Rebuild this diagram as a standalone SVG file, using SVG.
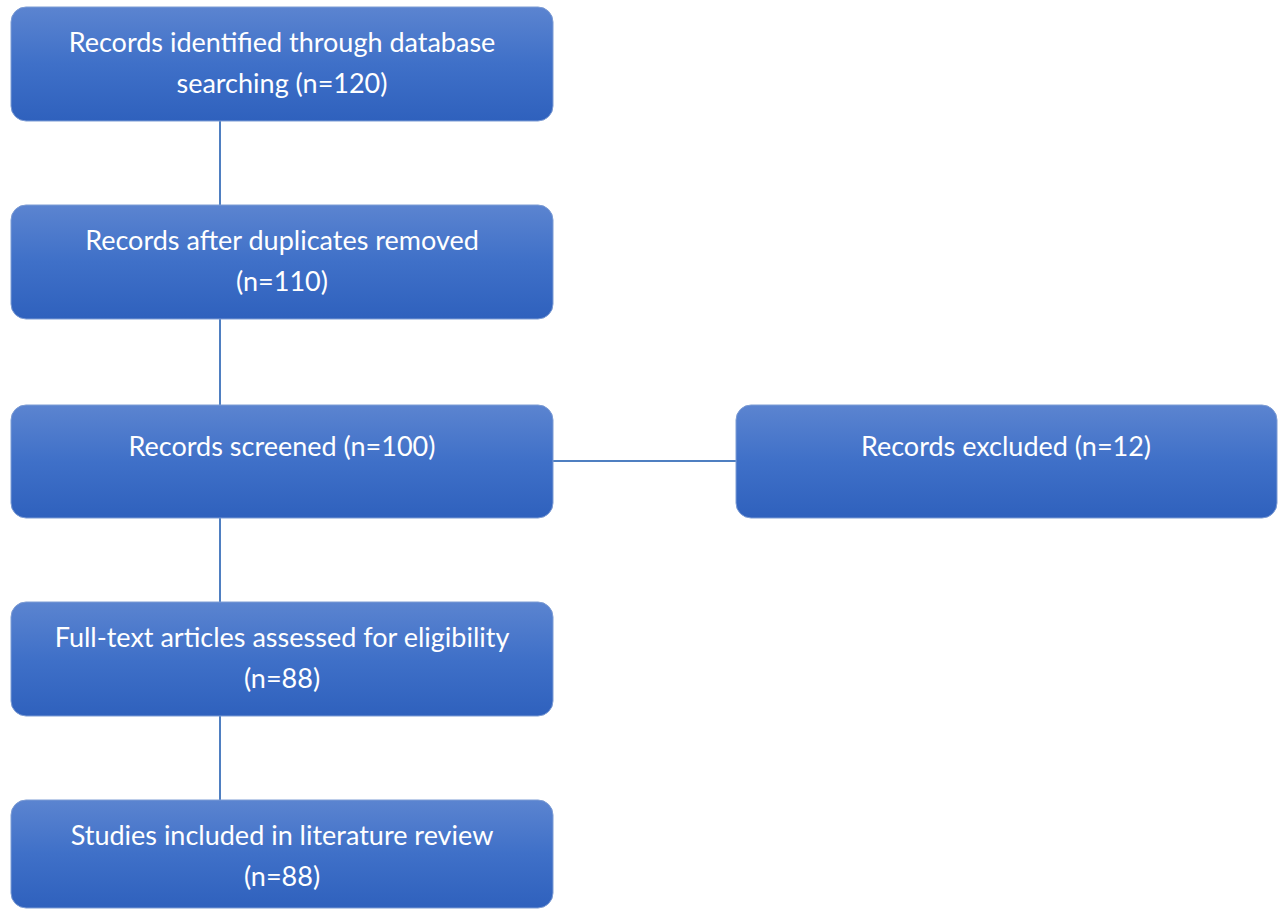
<svg xmlns="http://www.w3.org/2000/svg" width="1278" height="909" viewBox="0 0 1278 909">
<defs>
<linearGradient id="g" x1="0" y1="0" x2="0" y2="1">
<stop offset="0" stop-color="#5b84d0"/>
<stop offset="0.5" stop-color="#3f70c8"/>
<stop offset="1" stop-color="#2f61bd"/>
</linearGradient>
<style>
.box{fill:url(#g);stroke:#7d9cd4;stroke-width:1}
.t{font-family:Lato,"Open Sans",sans-serif;font-size:27px;fill:#ffffff;text-anchor:middle}
.c{stroke:#4f7fc1;stroke-width:2;fill:none}
</style>
</defs>
<g id="connectors">
<line class="c" x1="220" y1="121" x2="220" y2="205"/>
<line class="c" x1="220" y1="319" x2="220" y2="405"/>
<line class="c" x1="220" y1="518" x2="220" y2="602"/>
<line class="c" x1="220" y1="716" x2="220" y2="800"/>
<line class="c" x1="553" y1="461" x2="736" y2="461"/>
</g>
<g id="n1">
<rect class="box" x="11" y="7" width="542" height="114" rx="15"/>
<text class="t" x="282" y="52">Records identified through database</text>
<text class="t" x="282" y="93">searching (n=120)</text>
</g>
<g id="n2">
<rect class="box" x="11" y="205" width="542" height="114" rx="15"/>
<text class="t" x="282" y="250">Records after duplicates removed</text>
<text class="t" x="282" y="291">(n=110)</text>
</g>
<g id="n3">
<rect class="box" x="11" y="405" width="542" height="113" rx="15"/>
<text class="t" x="282" y="456">Records screened (n=100)</text>
</g>
<g id="n4">
<rect class="box" x="736" y="405" width="541" height="113" rx="15"/>
<text class="t" x="1006" y="456">Records excluded (n=12)</text>
</g>
<g id="n5">
<rect class="box" x="11" y="602" width="542" height="114" rx="15"/>
<text class="t" x="282" y="647">Full-text articles assessed for eligibility</text>
<text class="t" x="282" y="688">(n=88)</text>
</g>
<g id="n6">
<rect class="box" x="11" y="800" width="542" height="108" rx="15"/>
<text class="t" x="282" y="845">Studies included in literature review</text>
<text class="t" x="282" y="886">(n=88)</text>
</g>
</svg>
